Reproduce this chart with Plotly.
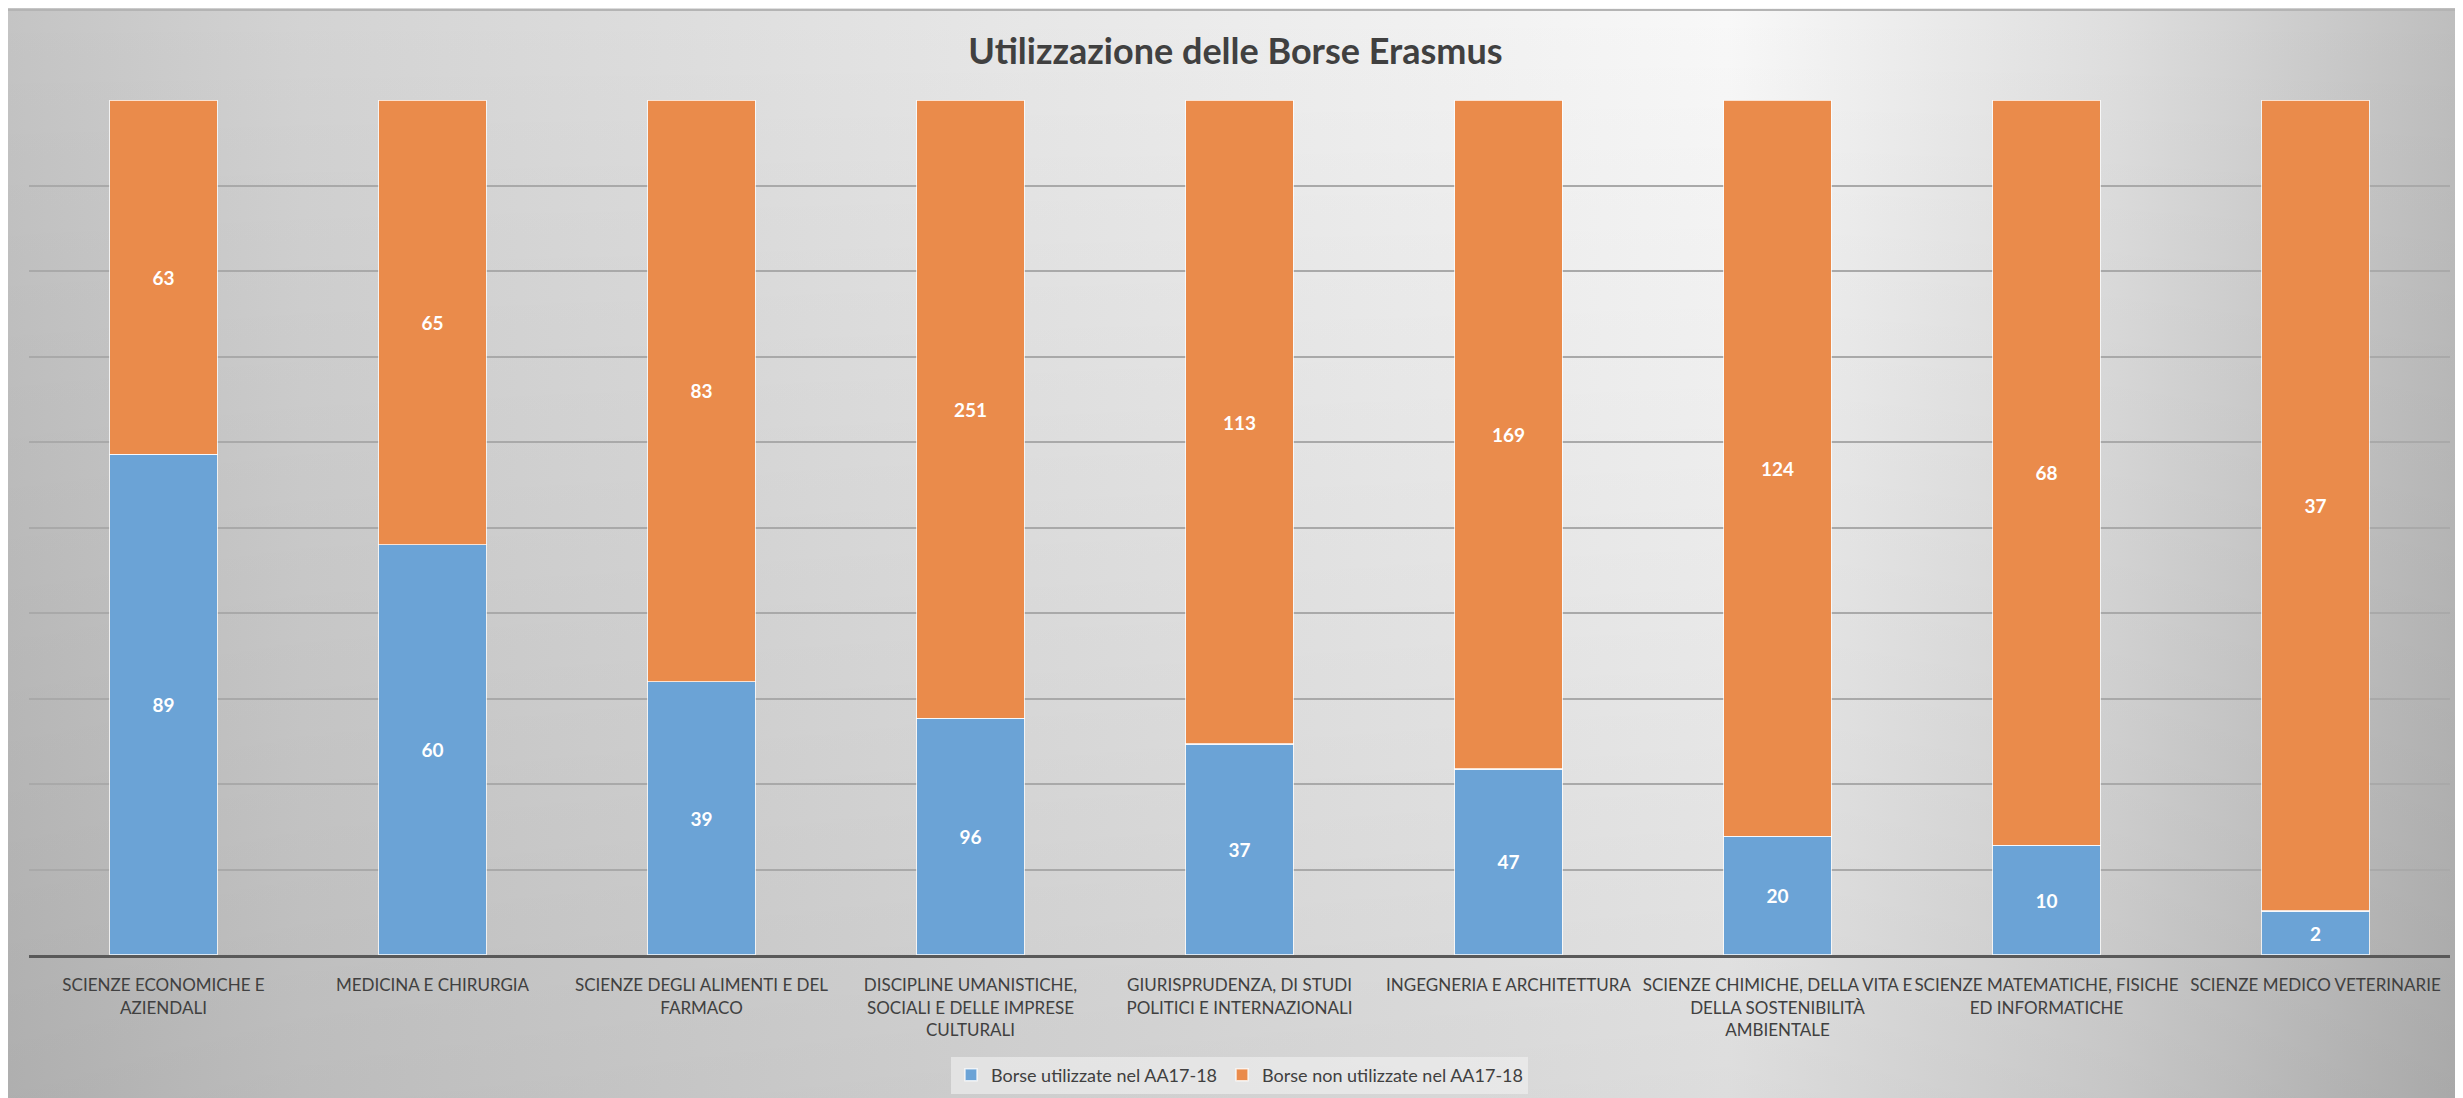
import base64
import plotly.graph_objects as go

categories = [
    "SCIENZE ECONOMICHE E<br>AZIENDALI",
    "MEDICINA E CHIRURGIA",
    "SCIENZE DEGLI ALIMENTI E DEL<br>FARMACO",
    "DISCIPLINE UMANISTICHE,<br>SOCIALI E DELLE IMPRESE<br>CULTURALI",
    "GIURISPRUDENZA, DI STUDI<br>POLITICI E INTERNAZIONALI",
    "INGEGNERIA E ARCHITETTURA",
    "SCIENZE CHIMICHE, DELLA VITA E<br>DELLA SOSTENIBILITÀ<br>AMBIENTALE",
    "SCIENZE MATEMATICHE, FISICHE<br>ED INFORMATICHE",
    "SCIENZE MEDICO VETERINARIE",
]
utilizzate = [89, 60, 39, 96, 37, 47, 20, 10, 2]
non_utilizzate = [63, 65, 83, 251, 113, 169, 124, 68, 37]
series_names = ["Borse utilizzate nel AA17-18", "Borse non utilizzate nel AA17-18"]

# page body has an 8px margin, so the figure is 8px smaller than the window
W, H = 2455, 1090
ML, MR, MT, MB = 21, 13, 92, 143
PW, PH = W - ML - MR, H - MT - MB

svg = f'''<svg xmlns="http://www.w3.org/2000/svg" width="{W}" height="{H}" viewBox="0 0 {W} {H}" preserveAspectRatio="none">
<defs>
<linearGradient id="h" x1="0" y1="0" x2="1" y2="0">
<stop offset="0" stop-color="#c4c4c4"/>
<stop offset="0.12" stop-color="#d3d3d3"/>
<stop offset="0.4" stop-color="#e6e6e6"/>
<stop offset="0.7" stop-color="#f8f8f8"/>
<stop offset="0.86" stop-color="#dedede"/>
<stop offset="1" stop-color="#bdbdbd"/>
</linearGradient>
<linearGradient id="v" x1="0" y1="0" x2="0" y2="1">
<stop offset="0" stop-color="#000" stop-opacity="0"/>
<stop offset="1" stop-color="#000" stop-opacity="0.11"/>
</linearGradient>
</defs>
<rect x="0" y="0" width="{W}" height="{H}" fill="url(#h)"/>
<rect x="0" y="0" width="{W}" height="{H}" fill="url(#v)"/>
<rect x="0" y="1" width="{W}" height="2" fill="#b4b4b4"/>
</svg>'''
src = "data:image/svg+xml;base64," + base64.b64encode(svg.encode("utf-8")).decode("ascii")

label_font = dict(family="Lato", size=19, color="white", weight="bold")

fig = go.Figure()
fig.add_trace(go.Bar(
    x=categories, y=utilizzate, name=series_names[0],
    marker=dict(color="#6BA3D6", line=dict(color="rgba(255,255,255,0.75)", width=1.5)),
    text=utilizzate, texttemplate="%{text}", textposition="inside",
    insidetextanchor="middle", textfont=label_font,
))
fig.add_trace(go.Bar(
    x=categories, y=non_utilizzate, name=series_names[1],
    marker=dict(color="#EA8B4B", line=dict(color="rgba(255,255,255,0.75)", width=1.5)),
    text=non_utilizzate, texttemplate="%{text}", textposition="inside",
    insidetextanchor="middle", textfont=label_font,
))

fig.update_layout(
    width=W, height=H,
    barmode="stack", barnorm="percent", bargap=0.6,
    margin=dict(l=ML, r=MR, t=MT, b=MB, autoexpand=False),
    paper_bgcolor="#dcdcdc", plot_bgcolor="rgba(0,0,0,0)",
    font=dict(family="Lato", color="#404040"),
    title=dict(text="<b>Utilizzazione delle Borse Erasmus</b>", x=0.5, xanchor="center",
               y=1 - 43 / H, yanchor="middle", yref="container",
               font=dict(family="Lato", size=36, color="#404040")),
    showlegend=True,
    legend=dict(orientation="h", x=0.5, xanchor="center", yref="container",
                y=1 - 1067 / H, yanchor="middle",
                bgcolor="rgba(242,242,242,0.6)", font=dict(family="Lato", size=18, color="#404040"),
                traceorder="normal", itemclick=False, itemwidth=30),
    images=[dict(source=src, xref="paper", yref="paper", x=-ML / PW, y=1 + MT / PH,
                 sizex=W / PW, sizey=H / PH, sizing="stretch", layer="below",
                 xanchor="left", yanchor="top")],
)
fig.update_xaxes(showline=True, linecolor="#595959", linewidth=3, ticks="outside",
                 ticklen=13, tickcolor="rgba(0,0,0,0)", tickangle=0,
                 tickfont=dict(family="Lato", size=17, color="#404040"),
                 showgrid=False, automargin=False)
fig.update_yaxes(range=[0, 100], dtick=10, showticklabels=False, showgrid=True,
                 gridcolor="#a9a9a9", gridwidth=2, zeroline=False, automargin=False)

fig.write_html("out.html")
